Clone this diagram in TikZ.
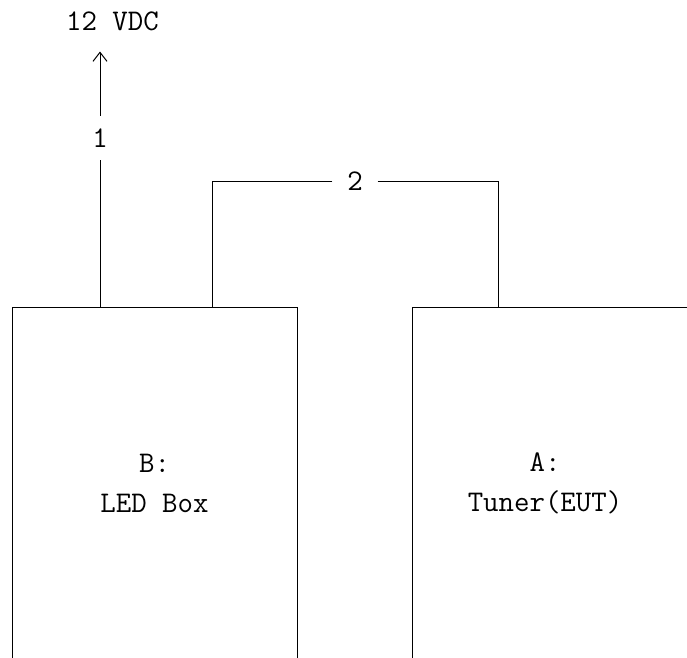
\documentclass[tikz,border=0pt]{standalone}
\usepackage{fontspec}
\usepackage{tikz}
\usetikzlibrary{arrows.meta}

\tikzset{
  unit/.style={draw, line width=1pt, minimum width=#1, minimum height=400pt, inner sep=0pt},
  tag/.style={font=\ttfamily\fontsize{30}{40}\selectfont, inner sep=0pt, align=center},
  wire/.style={line width=1pt}
}

\begin{document}
\begin{tikzpicture}[x=1pt, y=-1pt, >={Straight Barb[length=9pt,width=14pt]}]
    \useasboundingbox (0,0) rectangle (687,657);
    \clip (0,0) rectangle (687,657);

    \node[unit=285pt] (led) at (154.5,507) {};
    \node[unit=300pt] (tuner) at (562,507) {};
    \node[tag] (ledtext) at (154.5,483) {B:\\LED Box};
    \node[tag] (tunertext) at (545,483) {A:\\Tuner(EUT)};

    \node[tag, outer ysep=21pt] (vdc) at (112.5,21) {12 VDC};
    \node[tag, outer ysep=13pt] (one) at (100,138) {1};
    \node[tag, outer xsep=15pt] (two) at (355,181) {2};

    \coordinate (l2) at (212,307);
    \coordinate (r2) at (498,307);

    \draw[wire] (one) -- (one |- led.north);
    \draw[wire, ->] (one) -- (one |- vdc.south);
    \draw[wire] (two) -| (l2);
    \draw[wire] (two) -| (r2);
\end{tikzpicture}
\end{document}
